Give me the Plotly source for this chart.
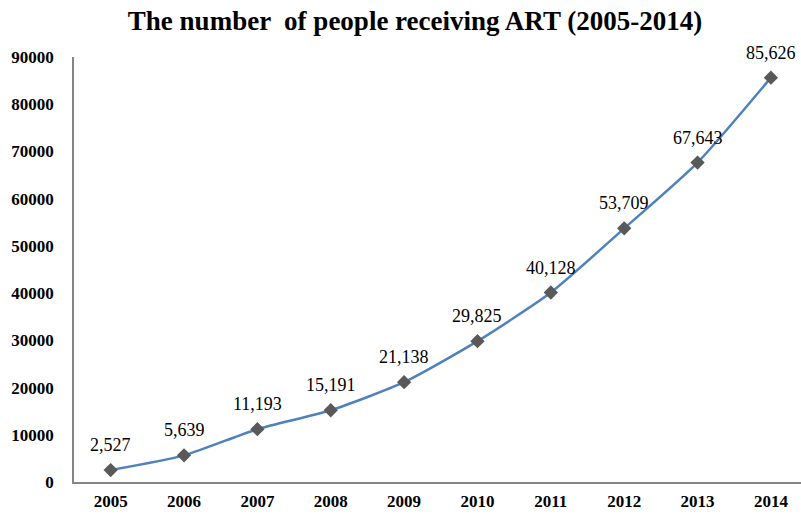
import plotly.graph_objects as go

years = ["2005", "2006", "2007", "2008", "2009", "2010", "2011", "2012", "2013", "2014"]
people = [2527, 5639, 11193, 15191, 21138, 29825, 40128, 53709, 67643, 85626]
y_ticks = [0, 10000, 20000, 30000, 40000, 50000, 60000, 70000, 80000, 90000]

labels = [f"{v:,}" for v in people]

fig = go.Figure(
    go.Scatter(
        x=years,
        y=people,
        mode="lines+markers",
        line=dict(color="#4F81BD", width=2.5, shape="spline", smoothing=0.6),
        marker=dict(symbol="diamond", size=11, color="#595959"),
        cliponaxis=False,
        hoverinfo="skip",
    )
)

# value labels above each point (category index on the x axis)
for i, (val, lab) in enumerate(zip(people, labels)):
    fig.add_annotation(
        x=i,
        y=val,
        xref="x",
        yref="y",
        text=lab,
        showarrow=False,
        yshift=25,
        font=dict(family="Liberation Serif", size=18, color="#000000"),
    )

fig.update_layout(
    width=801,
    height=514,
    margin=dict(l=74, r=0, t=57, b=32),
    paper_bgcolor="white",
    plot_bgcolor="white",
    showlegend=False,
    title=dict(
        text="<b>The number  of people receiving ART (2005-2014)</b>",
        x=415 / 801,
        xanchor="center",
        xref="container",
        y=1 - 21 / 514,
        yanchor="middle",
        yref="container",
        font=dict(family="Liberation Serif", size=27, color="#000000"),
    ),
    xaxis=dict(
        type="category",
        range=[-0.5, 9.41],
        showgrid=False,
        showline=True,
        linecolor="#868686",
        linewidth=1.5,
        ticks="",
        tickfont=dict(family="Liberation Serif", size=17, color="#000000", weight="bold"),
        ticklabelstandoff=3,
        zeroline=False,
    ),
    yaxis=dict(
        range=[0, 90000],
        tickvals=y_ticks,
        ticktext=[str(v) for v in y_ticks],
        showgrid=False,
        showline=True,
        linecolor="#868686",
        linewidth=1.5,
        ticks="",
        tickfont=dict(family="Liberation Serif", size=17, color="#000000", weight="bold"),
        ticklabelstandoff=15,
        zeroline=False,
    ),
)

fig.write_html("out.html")
